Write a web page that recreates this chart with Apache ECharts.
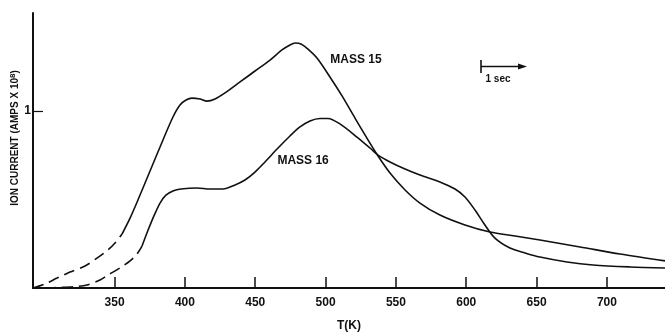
<!DOCTYPE html>
<html>
<head>
<meta charset="utf-8">
<script src="https://cdn.jsdelivr.net/npm/echarts@6/dist/echarts.min.js"></script>
<style>
  html, body { margin: 0; padding: 0; background: #fff; }
  #chart { width: 665px; height: 333px; }
</style>
</head>
<body>
<div id="chart"></div>
<script>
// temperature ticks (K) and y ticks (amps x 10^8)
const xTicks = [350, 400, 450, 500, 550, 600, 650, 700];
const yTicks = [1];

// MASS 15 - dashed low-temperature part, then solid trace
const m15DashT = [292.0, 300.5, 309.1, 318.3, 329.0, 337.5, 345.3, 350.3, 355.3];
const m15DashI = [0, 0.023, 0.056, 0.090, 0.124, 0.169, 0.215, 0.254, 0.305];
const m15T = [355.3, 361.0, 366.6, 375.2, 384.4, 391.5, 396.5, 400.8, 405.0, 410.7,
  415.7, 421.4, 428.5, 439.2, 449.8, 460.5, 469.0, 474.7, 478.3, 482.5, 487.5, 493.9,
  503.1, 511.7, 520.9, 529.4, 537.3, 545.8, 556.5, 567.1, 581.3, 599.1, 616.9, 634.7,
  652.4, 680.9, 709.3, 741.3];
const m15I = [0.305, 0.395, 0.497, 0.661, 0.836, 0.966, 1.034, 1.062, 1.073, 1.068,
  1.056, 1.068, 1.102, 1.164, 1.226, 1.288, 1.345, 1.373, 1.384, 1.379, 1.350, 1.299,
  1.192, 1.085, 0.960, 0.847, 0.746, 0.650, 0.554, 0.480, 0.412, 0.356, 0.316, 0.294,
  0.271, 0.232, 0.192, 0.153];

// MASS 16
const m16DashT = [300.5, 311.2, 321.9, 330.4, 339.6, 345.3, 353.8, 361.0, 365.9, 369.5];
const m16DashI = [0, 0.003, 0.008, 0.017, 0.045, 0.073, 0.113, 0.153, 0.192, 0.237];
const m16T = [369.5, 373.0, 377.3, 382.3, 386.5, 391.5, 397.2, 408.6, 417.8, 427.1,
  435.6, 442.7, 449.8, 456.9, 466.2, 474.7, 481.8, 488.9, 496.0, 501.7, 510.2, 522.3,
  531.6, 537.3, 545.8, 556.5, 567.1, 581.3, 592.0, 599.1, 606.2, 613.3, 620.4, 631.1,
  641.8, 652.4, 671.6, 690.1, 716.4, 741.3];
const m16I = [0.237, 0.311, 0.395, 0.480, 0.525, 0.548, 0.559, 0.565, 0.559, 0.559,
  0.582, 0.610, 0.655, 0.712, 0.791, 0.859, 0.910, 0.944, 0.958, 0.958, 0.927, 0.853,
  0.791, 0.751, 0.712, 0.672, 0.638, 0.599, 0.559, 0.514, 0.441, 0.356, 0.282, 0.226,
  0.198, 0.175, 0.147, 0.130, 0.119, 0.113];

const zip = (xs, ys) => xs.map((x, i) => [x, ys[i]]);

const ink = '#111';
const font = '"Liberation Sans", Arial, sans-serif';

const chart = echarts.init(document.getElementById('chart'), null, { renderer: 'canvas' });

function curve(data, dashed, label) {
  const s = {
    type: 'line',
    data: data,
    smooth: 0.3,
    showSymbol: false,
    lineStyle: { color: ink, width: 1.6, type: dashed ? [11, 6] : 'solid' },
    silent: true
  };
  if (label) {
    s.markPoint = {
      symbol: 'circle',
      symbolSize: 0,
      silent: true,
      label: {
        show: true, position: 'inside', formatter: label.text,
        color: ink, fontFamily: font, fontWeight: 'bold', fontSize: 12
      },
      data: [{ coord: label.at }]
    };
  }
  return s;
}

chart.setOption({
  animation: false,
  backgroundColor: '#fff',
  grid: { left: 33, right: 0, top: 13, bottom: 45, containLabel: false, outerBoundsMode: 'none' },
  xAxis: {
    type: 'value',
    min: 292,
    max: 741.3,
    name: 'T(K)',
    nameLocation: 'middle',
    nameGap: 32,
    nameTextStyle: { color: ink, fontFamily: font, fontWeight: 'bold', fontSize: 12 },
    axisLine: { lineStyle: { color: ink, width: 2 } },
    axisTick: { show: true, inside: true, length: 11, customValues: xTicks, lineStyle: { color: ink, width: 1.5 } },
    axisLabel: { customValues: xTicks, margin: 9, color: ink, fontFamily: font, fontWeight: 'bold', fontSize: 12 },
    splitLine: { show: false }
  },
  yAxis: {
    type: 'value',
    min: 0,
    max: 1.5537,
    axisLine: { show: true, lineStyle: { color: ink, width: 2 } },
    axisTick: { show: true, inside: true, length: 10, customValues: yTicks, lineStyle: { color: ink, width: 1.2 } },
    axisLabel: { customValues: yTicks, margin: 2, color: ink, fontFamily: font, fontWeight: 'bold', fontSize: 12 },
    splitLine: { show: false }
  },
  series: [
    curve(zip(m15DashT, m15DashI), true),
    curve(zip(m15T, m15I), false, { text: 'MASS 15', at: [521.6, 1.288] }),
    curve(zip(m16DashT, m16DashI), true),
    curve(zip(m16T, m16I), false, { text: 'MASS 16', at: [484, 0.718] })
  ],
  graphic: [
    {
      type: 'text',
      x: 15,
      y: 138,
      rotation: Math.PI / 2,
      silent: true,
      style: {
        text: '{t|ION CURRENT (AMPS X 10}{s|8}{t|)}',
        textAlign: 'center',
        textVerticalAlign: 'middle',
        rich: {
          t: { fill: ink, fontFamily: font, fontWeight: 'bold', fontSize: 10 },
          s: { fill: ink, fontFamily: font, fontWeight: 'bold', fontSize: 8, verticalAlign: 'top', padding: [0, 0, 5, 0] }
        }
      }
    },
    {
      type: 'group',
      silent: true,
      children: [
        { type: 'line', shape: { x1: 481, y1: 60, x2: 481, y2: 73 }, style: { stroke: ink, lineWidth: 1.6 } },
        { type: 'line', shape: { x1: 481, y1: 66.5, x2: 521, y2: 66.5 }, style: { stroke: ink, lineWidth: 1.4 } },
        { type: 'polygon', shape: { points: [[527, 66.5], [518, 63.5], [518, 69.5]] }, style: { fill: ink } },
        { type: 'text', x: 498, y: 79, style: { text: '1 sec', fill: ink, font: 'bold 10px ' + font, textAlign: 'center', textVerticalAlign: 'middle' } }
      ]
    }
  ]
});
</script>
</body>
</html>
